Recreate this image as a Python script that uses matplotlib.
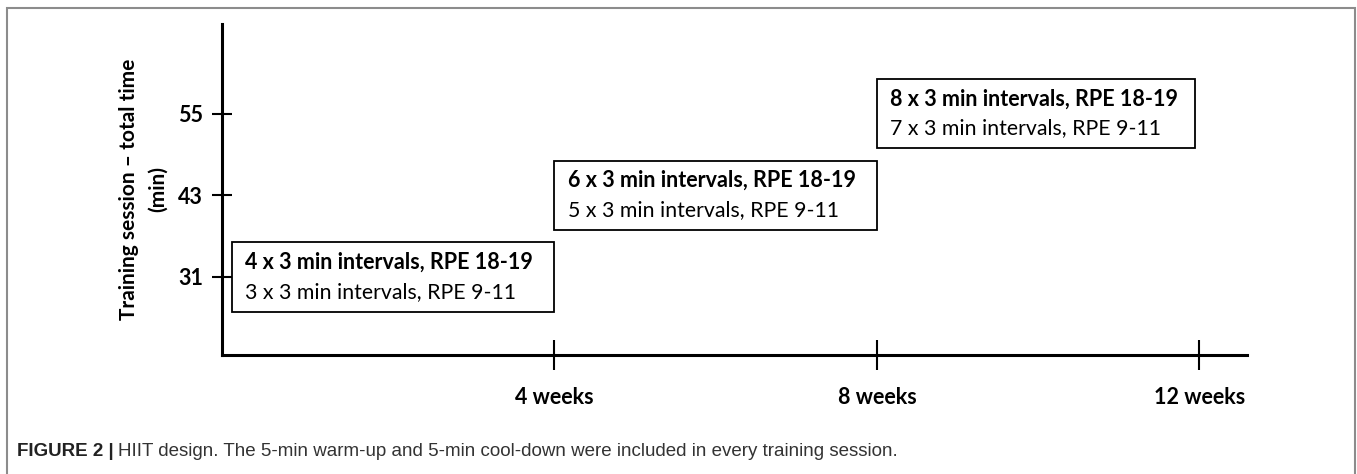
import matplotlib
matplotlib.use("Agg")
import matplotlib.pyplot as plt
from matplotlib.patches import Rectangle

plt.rcParams["font.family"] = ["Lato", "DejaVu Sans"]

# data
weeks = [4, 8, 12]
week_labels = ["4 weeks", "8 weeks", "12 weeks"]
minutes = [31, 43, 55]
phase_start = [0, 4, 8]
phase_end = [4, 8, 11.95]
hard_text = ["4 x 3 min intervals, RPE 18-19",
             "6 x 3 min intervals, RPE 18-19",
             "8 x 3 min intervals, RPE 18-19"]
easy_text = ["3 x 3 min intervals, RPE 9-11",
             "5 x 3 min intervals, RPE 9-11",
             "7 x 3 min intervals, RPE 9-11"]

W, H = 1357, 474
fig = plt.figure(figsize=(W / 100, H / 100), dpi=100)

# outer frame of the figure panel
fig.patches.append(Rectangle((7 / W, -0.1), (1355 - 7) / W, 1.1 - 8 / H,
                             transform=fig.transFigure, fill=False,
                             edgecolor="#8c8c8c", lw=1.5))

ax = fig.add_axes([222 / W, 1 - 355 / H, (1247 - 222) / W, (355 - 24) / H])
ax.set_xlim(-0.124, 12.59)
ax.set_ylim(19.5, 68.2)

for s in ["top", "right"]:
    ax.spines[s].set_visible(False)
for s in ["left", "bottom"]:
    ax.spines[s].set_linewidth(2.2)
    ax.spines[s].set_color("black")

ax.set_xticks(weeks)
ax.set_xticklabels(week_labels, fontsize=15.5, fontweight="bold")
ax.set_yticks(minutes)
ax.set_yticklabels([str(m) for m in minutes], fontsize=15.5, fontweight="bold")
ax.tick_params(axis="x", direction="inout", length=21.5, width=1.5, pad=12.5)
ax.tick_params(axis="y", direction="inout", length=15, width=1.5, pad=6)

ax.set_ylabel("Training session \u2013 total time\n(min)", fontsize=15,
              fontweight="bold", linespacing=1.55)
ax.yaxis.set_label_coords(-0.053, 0.5)

box_h = 10.2
for i in range(len(minutes)):
    ax.add_patch(Rectangle((phase_start[i], minutes[i] - box_h / 2),
                           phase_end[i] - phase_start[i], box_h,
                           fill=True, facecolor="white", edgecolor="black",
                           lw=1.3, zorder=3))
    ax.annotate(hard_text[i], (phase_start[i], minutes[i]),
                xytext=(9.5, 6), textcoords="offset points",
                fontsize=15.5, fontweight="bold", va="baseline", zorder=4)
    ax.annotate(easy_text[i], (phase_start[i], minutes[i]),
                xytext=(9.5, -15), textcoords="offset points",
                fontsize=15.3, va="baseline", zorder=4)

# caption
cap_font = ["Liberation Sans Narrow", "Liberation Sans", "DejaVu Sans"]
t1 = fig.text(17 / W, 1 - 451 / H, "FIGURE 2 |", fontsize=13.5,
              fontweight="bold", family=cap_font, color="#222222", va="center")
fig.canvas.draw()
bb = t1.get_window_extent()
fig.text((bb.x1 + 4) / W, 1 - 451 / H,
         "HIIT design. The 5-min warm-up and 5-min cool-down were included in every training session.",
         fontsize=13.5, family=cap_font, color="#333333", va="center")

fig.savefig("out.png", dpi=100)
